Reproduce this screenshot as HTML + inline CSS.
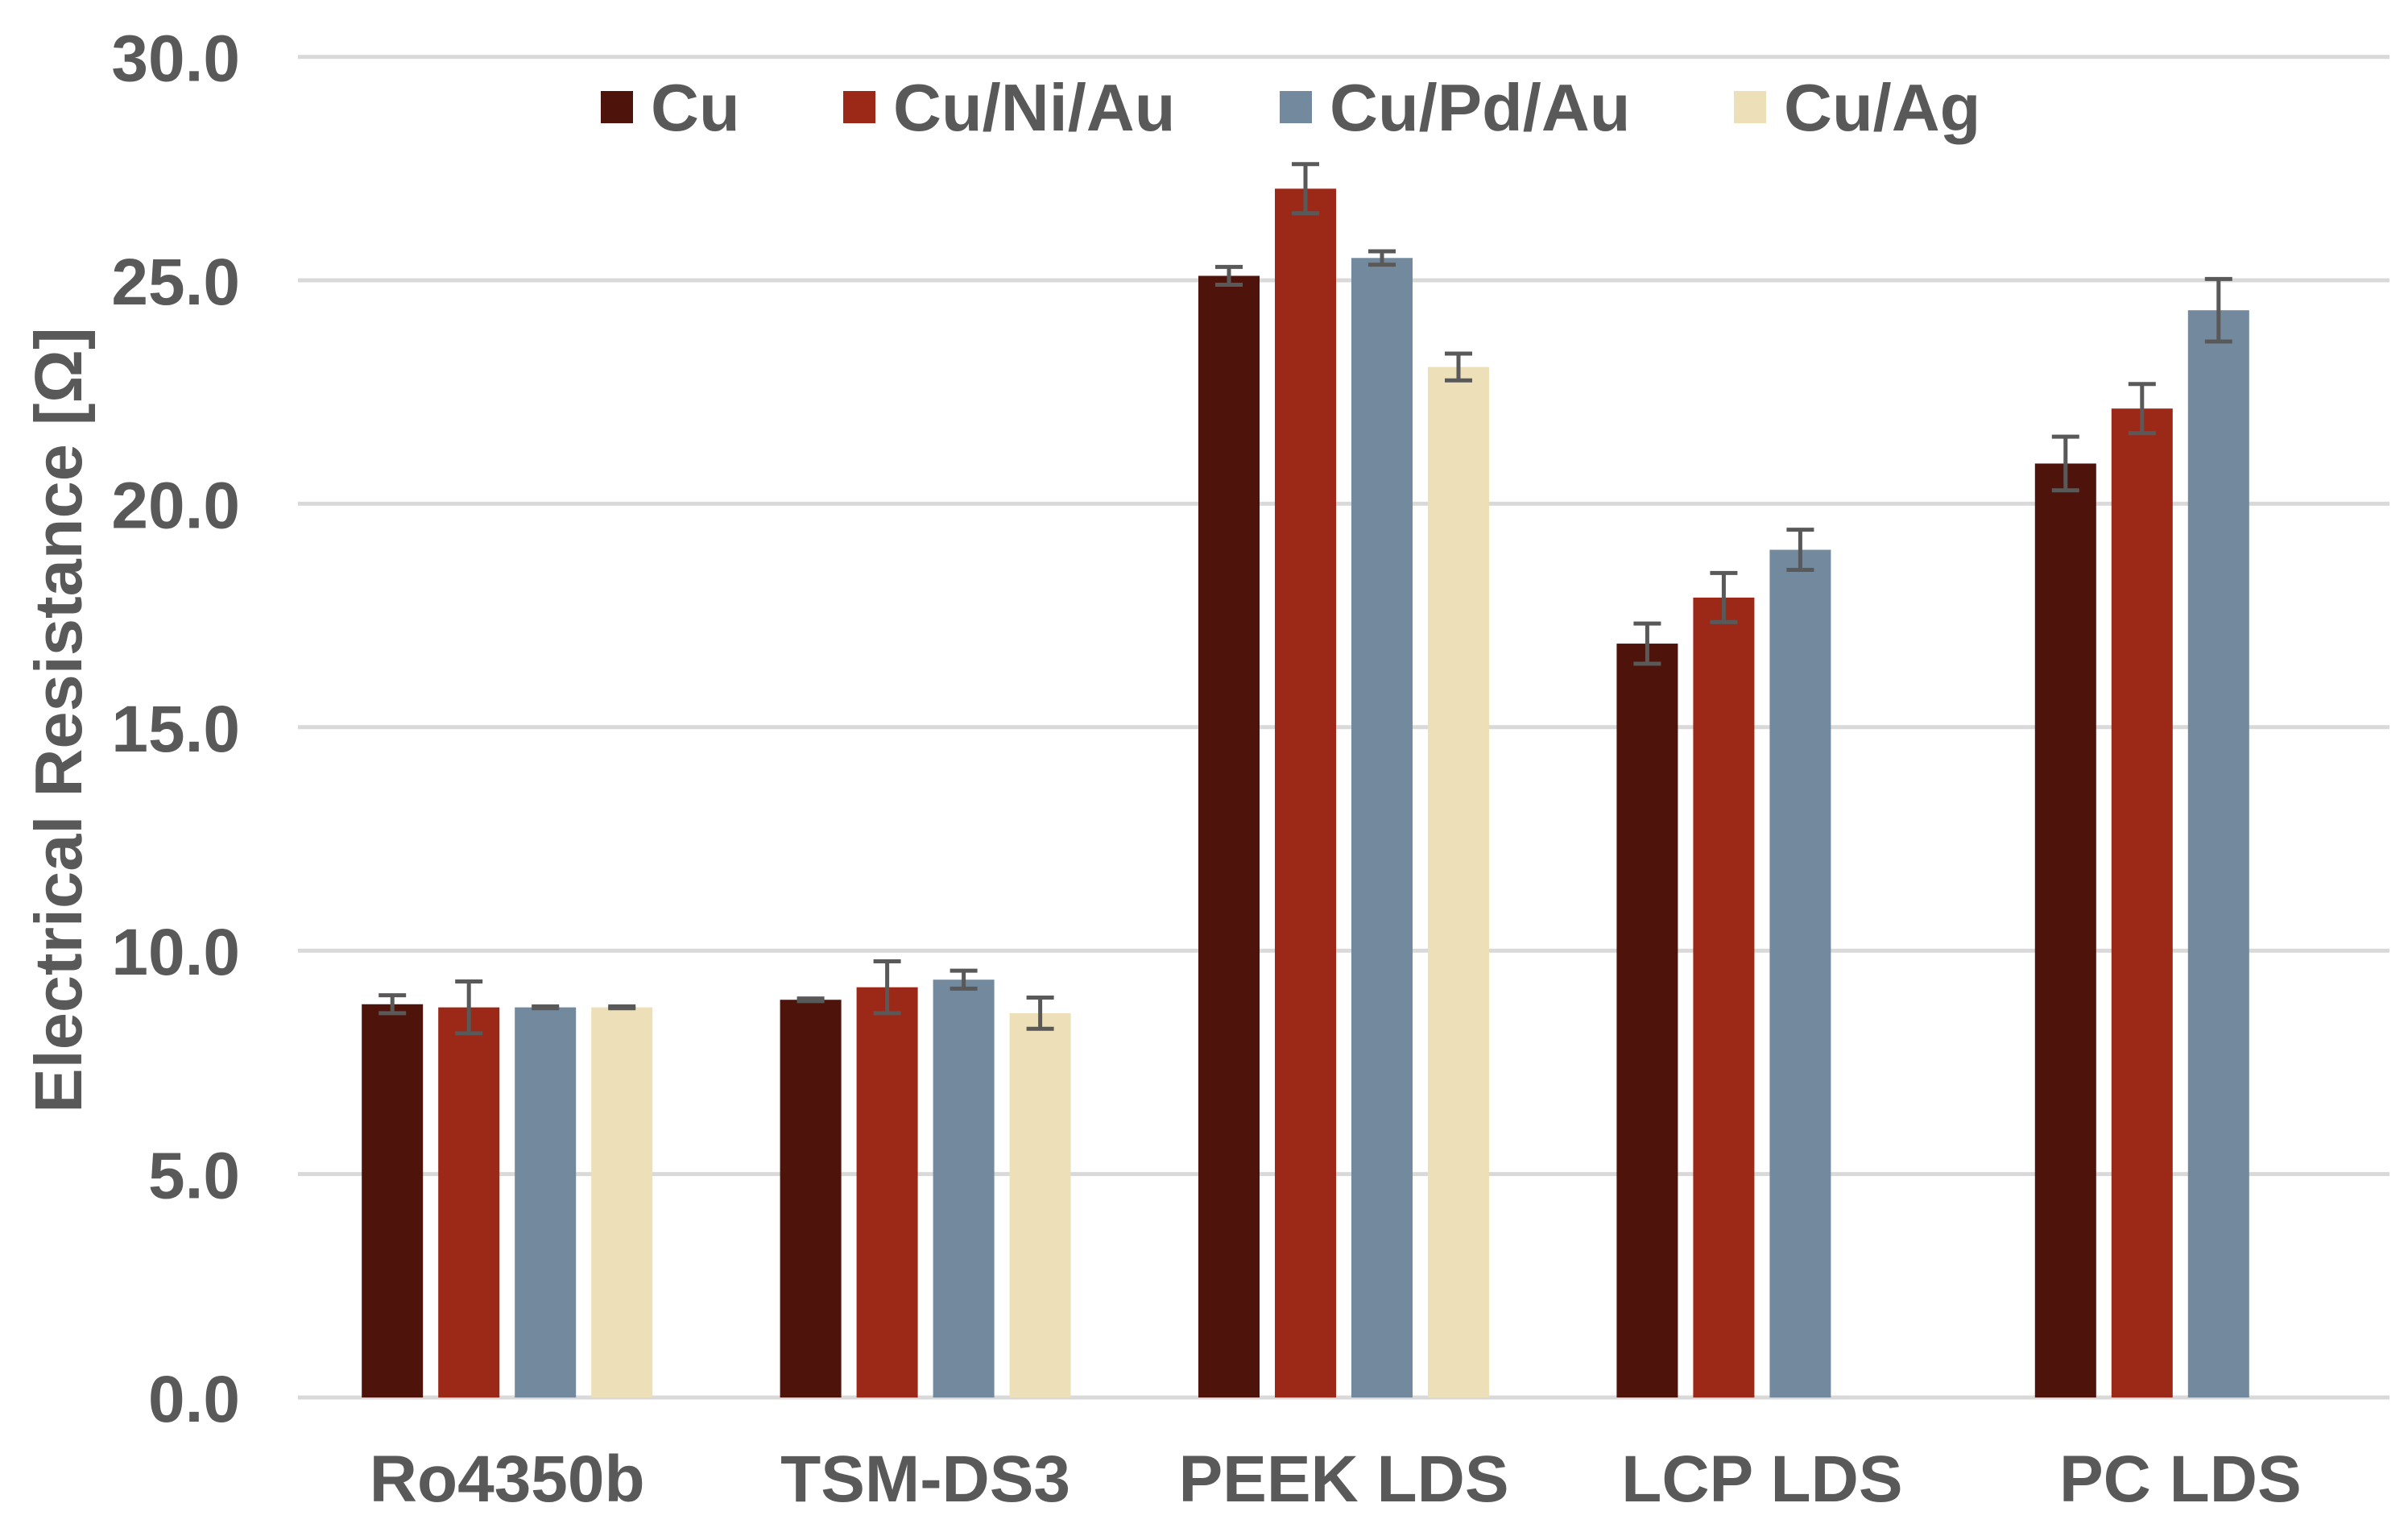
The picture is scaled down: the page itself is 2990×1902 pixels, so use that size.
<!DOCTYPE html>
<html><head><meta charset="utf-8"><style>
html,body{margin:0;padding:0;background:#fff;}
svg{display:block;}
text{font-family:"Liberation Sans",Arial,sans-serif;font-weight:bold;fill:#595959;}
</style></head><body>
<svg id="chart" width="2990" height="1902" viewBox="0 0 2990 1902">
<g id="grid"></g>
<g id="yticks"></g>
<g id="bars"></g>
<g id="errs"></g>
<g id="xlabels"></g>
<text transform="translate(101,894) rotate(-90)" text-anchor="middle" font-size="83">Electrical Resistance [Ω]</text>
<g id="legend"></g>
</svg>
<script>
const categories = ["Ro4350b","TSM-DS3","PEEK LDS","LCP LDS","PC LDS"];
const seriesNames = ["Cu","Cu/Ni/Au","Cu/Pd/Au","Cu/Ag"];
const cuVals = [8.8, 8.9, 25.1, 16.87, 20.9];
const niVals = [8.73, 9.18, 27.05, 17.9, 22.13];
const pdVals = [8.73, 9.35, 25.5, 18.97, 24.33];
const agVals = [8.73, 8.6, 23.06, null, null];
const cuErr = [0.2, 0.03, 0.2, 0.45, 0.6];
const niErr = [0.58, 0.58, 0.55, 0.55, 0.55];
const pdErr = [0.02, 0.2, 0.15, 0.45, 0.7];
const agErr = [0.02, 0.35, 0.3, null, null];
const yTicks = [0, 5, 10, 15, 20, 25, 30];
const yTickLabels = ["0.0","5.0","10.0","15.0","20.0","25.0","30.0"];

const colors = ["#4e140b","#9c2817","#738a9e","#ede0b8"];
const values = [cuVals, niVals, pdVals, agVals];
const errs = [cuErr, niErr, pdErr, agErr];
const NS = "http://www.w3.org/2000/svg";
const plotL = 370, plotR = 2967, y0 = 1735, yTop = 70.6, yMax = 30;
const groupW = (plotR - plotL) / categories.length;
const barW = 76, barStep = 95;
function yScale(v){ return y0 - (v / yMax) * (y0 - yTop); }
function groupCenter(i){ return plotL + groupW * (i + 0.5); }
function barX(i, s){ return groupCenter(i) + (s - 1.5) * barStep - barW / 2; }
function mk(tag, attrs, parent){ const e = document.createElementNS(NS, tag); for (const k in attrs) e.setAttribute(k, attrs[k]); parent.appendChild(e); return e; }

const grid = document.getElementById('grid'), yt = document.getElementById('yticks');
yTicks.forEach((t, i) => {
  const l = mk('line', {x1: plotL, x2: plotR, y1: yScale(t), y2: yScale(t), stroke: '#d9d9d9', 'stroke-width': 5}, grid);
  
  
  const tx = mk('text', {x: 298, y: yScale(t) + 30, 'text-anchor': 'end', 'font-size': 82}, yt);
  tx.textContent = yTickLabels[i];
  
  
});

const bars = document.getElementById('bars'), eg = document.getElementById('errs'), xl = document.getElementById('xlabels');
categories.forEach((c, i) => {
  values.forEach((arr, s) => {
    const v = arr[i];
    if (v === null || v === undefined) return;
    const r = mk('rect', {x: barX(i, s), y: yScale(v), width: barW, height: y0 - yScale(v), fill: colors[s]}, bars);
    
    
    const e = errs[s][i];
    if (e === null || e === undefined) return;
    const cx = barX(i, s) + barW / 2, yh = yScale(v + e), yl = yScale(v - e);
    const g = mk('g', {stroke: '#595959', 'stroke-width': 5}, eg);
    
    
    mk('line', {x1: cx, x2: cx, y1: yh, y2: yl}, g);
    mk('line', {x1: cx - 17, x2: cx + 17, y1: yh, y2: yh}, g);
    mk('line', {x1: cx - 17, x2: cx + 17, y1: yl, y2: yl}, g);
  });
  const t = mk('text', {x: groupCenter(i), y: 1864, 'text-anchor': 'middle', 'font-size': 82}, xl);
  t.textContent = c;
  
  
});

const lg = document.getElementById('legend');
const legX = [746, 1047, 1589, 2153];
seriesNames.forEach((n, s) => {
  const g = mk('g', {}, lg);
  
  
  mk('rect', {x: legX[s], y: 113, width: 40, height: 40, fill: colors[s]}, g);
  const t = mk('text', {x: legX[s] + 62, y: 162, 'font-size': 83}, g);
  t.textContent = n;
});
</script>
</body></html>
